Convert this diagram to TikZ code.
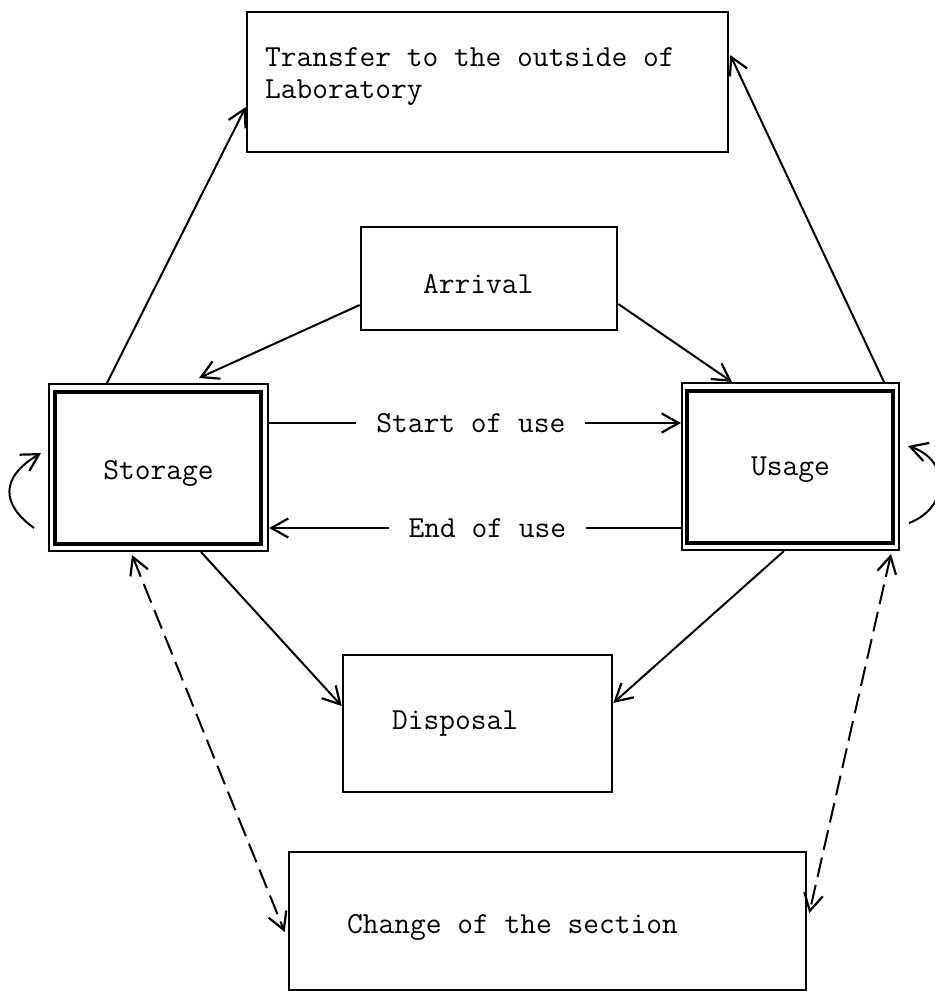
\documentclass[tikz,border=0pt]{standalone}
\usepackage{fontspec}
\usetikzlibrary{arrows.meta}
\newcommand\twfont{\fontsize{15.3pt}{16pt}\ttfamily\addfontfeatures{FakeBold=2.5}}
\begin{document}
\begin{tikzpicture}[x=0.5pt,y=-0.5pt,
  every node/.style={font=\twfont,execute at begin node={\spaceskip=0pt\xspaceskip=0pt}},
  box/.style={draw,line width=1.3pt,rectangle,inner ysep=0pt},
  dbox/.style={draw,line width=1pt,rectangle,inner sep=0pt},
  inbox/.style={line width=1.7pt},
  arr/.style={line width=1pt,-{Straight Barb[length=8.5pt,width=9.5pt,line width=1.1pt]}},
  darr/.style={line width=1pt,dash pattern=on 10pt off 4pt,{Straight Barb[length=8.5pt,width=9.5pt,line width=1.1pt]}-{Straight Barb[length=8.5pt,width=9.5pt,line width=1.1pt]}},
  lbl/.style={fill=white,inner xsep=10pt,inner ysep=2pt}
]
\useasboundingbox (0,0) rectangle (935,991);
\clip (0,0) rectangle (935,991);

\node[box,minimum width=240.5pt,minimum height=70pt,text width=222.5pt,inner xsep=9pt,align=left] (transfer) at (487.5,82) {Transfer to the outside of\\Laboratory\rule[-9pt]{0pt}{0pt}};
\node[box,minimum width=128pt,minimum height=51.5pt,text width=66pt,inner xsep=31pt,align=left] (arrival) at (489,278.5) {\rule{0pt}{15pt}Arrival};
\node[box,minimum width=134.5pt,minimum height=68.5pt,text width=85.5pt,inner xsep=24.5pt,align=left] (disposal) at (477.5,723.5) {Disposal};
\node[box,minimum width=258.5pt,minimum height=69pt,text width=200.5pt,inner xsep=29pt,align=left] (change) at (547.5,921) {\rule{0pt}{16pt}Change of the section};

\node[dbox,minimum width=109.5pt,minimum height=83.5pt] (storage) at (158.5,467.5) {\rule{0pt}{15pt}Storage};
\draw[inbox] ([shift={(7,9)}]storage.north west) rectangle ([shift={(-8,-8)}]storage.south east);
\node[dbox,minimum width=108.5pt,minimum height=83.5pt] (usage) at (790.5,466.5) {\rule{0pt}{12pt}Usage};
\draw[inbox] ([shift={(6,9)}]usage.north west) rectangle ([shift={(-7,-8)}]usage.south east);

\draw[arr] ([shift={(59,0)}]storage.north west) -- ([shift={(0,25)}]transfer.west);
\draw[arr] ([shift={(-16,0)}]usage.north east) -- ([shift={(1,-27)}]transfer.east);
\draw[arr] ([shift={(0,26.5)}]arrival.west) -- ([shift={(151,-5)}]storage.north west);
\draw[arr] ([shift={(0,25.5)}]arrival.east) -- ([shift={(51,0)}]usage.north west);

\draw[arr] ([shift={(0,-44.5)}]storage.east) -- node[lbl,pos=0.49] {Start of use} ([shift={(0,-43.5)}]usage.west);
\draw[arr] ([shift={(0,61.5)}]usage.west) -- node[lbl,pos=0.47] {End of use} ([shift={(0,60.5)}]storage.east);

\draw[arr] ([shift={(153,0)}]storage.south west) -- ([shift={(0,-17.5)}]disposal.west);
\draw[arr] ([shift={(103,0)}]usage.south west) -- ([shift={(0,-20.5)}]disposal.east);

\draw[darr] ([shift={(84,3)}]storage.south west) -- ([shift={(-3,11)}]change.west);
\draw[darr] ([shift={(-9,3)}]usage.south east) -- ([shift={(2,-8)}]change.east);

\draw[arr] ([shift={(-14,60.5)}]storage.west) .. controls +(-32,-23) and +(-42,25) .. ([shift={(-7,-14.5)}]storage.west);
\draw[arr] ([shift={(9,56.5)}]usage.east) .. controls +(40,-15) and +(43,14) .. ([shift={(8,-20.5)}]usage.east);
\end{tikzpicture}
\end{document}
